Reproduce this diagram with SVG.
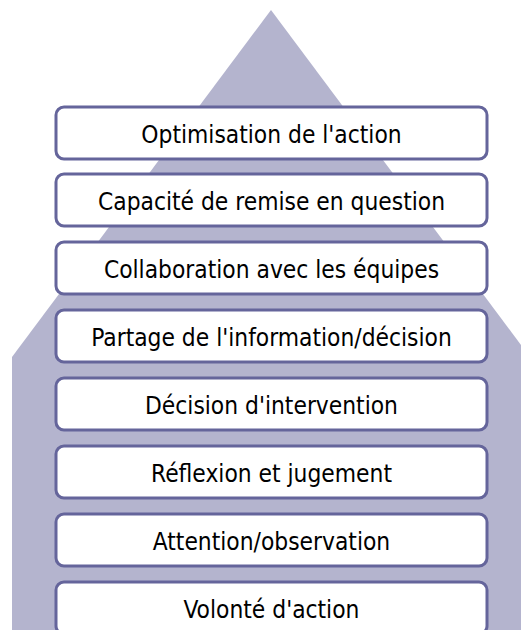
<svg xmlns="http://www.w3.org/2000/svg" width="521" height="630" viewBox="0 0 521 630">
  <style>
    .step rect { fill: #ffffff; stroke: #65659b; stroke-width: 3; }
    .step text { font-family: "DejaVu Sans Condensed", "DejaVu Sans", Verdana, sans-serif; font-stretch: condensed; font-size: 24.3px; fill: #000000; text-anchor: middle; }
  </style>
  <rect x="0" y="0" width="521" height="630" fill="#ffffff"/>
  <!-- background arrow -->
  <polygon id="arrow" points="271,10 530,357 530,630 12,630 12,357" fill="#b4b4ce"/>
  <g id="connectors"/>
  <g id="n1" class="step"><rect x="56" y="107" width="431" height="52" rx="8"/><text x="271.5" y="143">Optimisation de l'action</text></g>
  <g id="n2" class="step"><rect x="56" y="174" width="431" height="52" rx="8"/><text x="271.5" y="210">Capacité de remise en question</text></g>
  <g id="n3" class="step"><rect x="56" y="242" width="431" height="52" rx="8"/><text x="271.5" y="278">Collaboration avec les équipes</text></g>
  <g id="n4" class="step"><rect x="56" y="310" width="431" height="52" rx="8"/><text x="271.5" y="346">Partage de l'information/décision</text></g>
  <g id="n5" class="step"><rect x="56" y="378" width="431" height="52" rx="8"/><text x="271.5" y="414">Décision d'intervention</text></g>
  <g id="n6" class="step"><rect x="56" y="446" width="431" height="52" rx="8"/><text x="271.5" y="482">Réflexion et jugement</text></g>
  <g id="n7" class="step"><rect x="56" y="514" width="431" height="52" rx="8"/><text x="271.5" y="550">Attention/observation</text></g>
  <g id="n8" class="step"><rect x="56" y="582" width="431" height="52" rx="8"/><text x="271.5" y="618">Volonté d'action</text></g>
</svg>
